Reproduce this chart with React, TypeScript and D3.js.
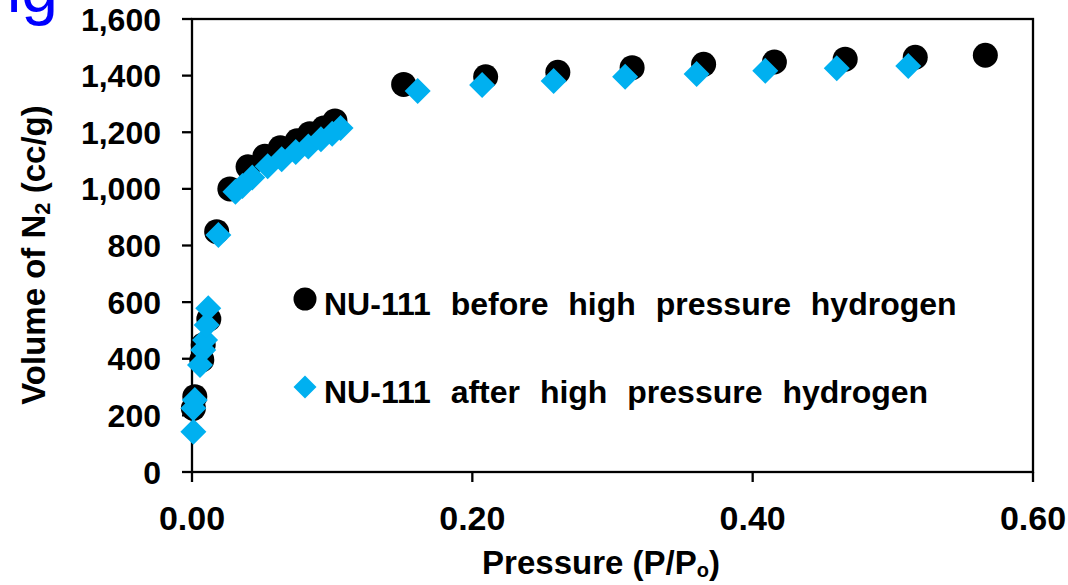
import React from "react";
import * as d3 from "d3";

const beforeX = [0.001, 0.002, 0.007, 0.008, 0.012, 0.0176, 0.027, 0.040, 0.052, 0.063, 0.075, 0.084, 0.094, 0.102, 0.151, 0.2095, 0.261, 0.314, 0.365, 0.4155, 0.466, 0.516, 0.566];
const beforeY = [225, 266, 396, 449, 540, 849, 1000, 1078, 1115, 1145, 1170, 1195, 1215, 1240, 1369, 1396, 1412, 1428, 1440, 1448, 1458, 1465, 1472];

const afterX = [0.001, 0.001, 0.002, 0.0057, 0.008, 0.0093, 0.0105, 0.0116, 0.0188, 0.031, 0.036, 0.043, 0.054, 0.064, 0.074, 0.083, 0.092, 0.100, 0.106, 0.161, 0.207, 0.258, 0.309, 0.360, 0.409, 0.460, 0.511];
const afterY = [142, 225, 254, 378, 431, 466, 519, 578, 837, 990, 1010, 1040, 1080, 1105, 1130, 1150, 1175, 1195, 1215, 1346, 1367, 1381, 1396, 1406, 1417, 1426, 1434];

const xTicks = [0, 0.2, 0.4, 0.6];
const yTicks = [0, 200, 400, 600, 800, 1000, 1200, 1400, 1600];

const seriesNames = ["NU-111 before high pressure hydrogen", "NU-111 after high pressure hydrogen"];
const seriesColors = ["#000000", "#00B0F0"];

const W = 1068, H = 585;
const L = 192, R = 1033, T = 19, B = 472;
const FONT = "'Liberation Sans', Arial, Helvetica, sans-serif";

export default function App() {
  const x = d3.scaleLinear().domain([0, 0.6]).range([L, R]);
  const y = d3.scaleLinear().domain([0, 1600]).range([B, T]);
  const fmtY = d3.format(",");
  const fmtX = d3.format(".2f");
  const diamond = (half: number) => d3.symbol(d3.symbolSquare, 2 * half * half)();
  const before = beforeX.map((v, i) => [v, beforeY[i]]);
  const after = afterX.map((v, i) => [v, afterY[i]]);
  const sw = 2.3;
  return (
    <svg width={W} height={H} style={{ position: "absolute", left: 0, top: 0, background: "#fff" }} fontFamily={FONT}>
      <rect x={0} y={0} width={W} height={H} fill="#fff" />
      <text x={58} y={12} textAnchor="end" fontSize={66} fill="#0000ff" fontFamily={FONT}>Fig</text>
      <rect x={L} y={T} width={R - L} height={B - T} fill="none" stroke="#000" strokeWidth={sw} />
      {yTicks.map((t) => (
        <g key={"y" + t}>
          <line x1={L - 10} x2={L} y1={y(t)} y2={y(t)} stroke="#000" strokeWidth={sw} />
          <text x={161} y={y(t)} dy="0.36em" textAnchor="end" fontSize={32} fontWeight="bold">{fmtY(t)}</text>
        </g>
      ))}
      {xTicks.map((t) => (
        <g key={"x" + t}>
          <line x1={x(t)} x2={x(t)} y1={B} y2={B + 10} stroke="#000" strokeWidth={sw} />
          <text x={x(t)} y={530} textAnchor="middle" fontSize={34} fontWeight="bold">{fmtX(t)}</text>
        </g>
      ))}
      <text x={601} y={574} textAnchor="middle" fontSize={33} fontWeight="bold">
        Pressure (P/P<tspan fontSize={20} dy={3}>o</tspan><tspan dy={-3}>)</tspan>
      </text>
      <text transform={`translate(45,255) rotate(-90)`} textAnchor="middle" fontSize={33} fontWeight="bold">
        Volume of N<tspan fontSize={22} dy={5}>2</tspan><tspan dy={-5}> (cc/g)</tspan>
      </text>
      {before.map((d, i) => (
        <circle key={"b" + i} cx={x(d[0])} cy={y(d[1])} r={12.5} fill={seriesColors[0]} />
      ))}
      {after.map((d, i) => (
        <path key={"a" + i} d={diamond(13) as string} transform={`translate(${x(d[0])},${y(d[1])}) rotate(45)`} fill={seriesColors[1]} />
      ))}
      <circle cx={305} cy={299} r={11.5} fill={seriesColors[0]} />
      <text x={324} y={315} fontSize={32} fontWeight="bold" style={{ wordSpacing: "11px" }}>{seriesNames[0]}</text>
      <path d={diamond(11.5) as string} transform="translate(305,387) rotate(45)" fill={seriesColors[1]} />
      <text x={324} y={403} fontSize={32} fontWeight="bold" style={{ wordSpacing: "11px" }}>{seriesNames[1]}</text>
    </svg>
  );
}
